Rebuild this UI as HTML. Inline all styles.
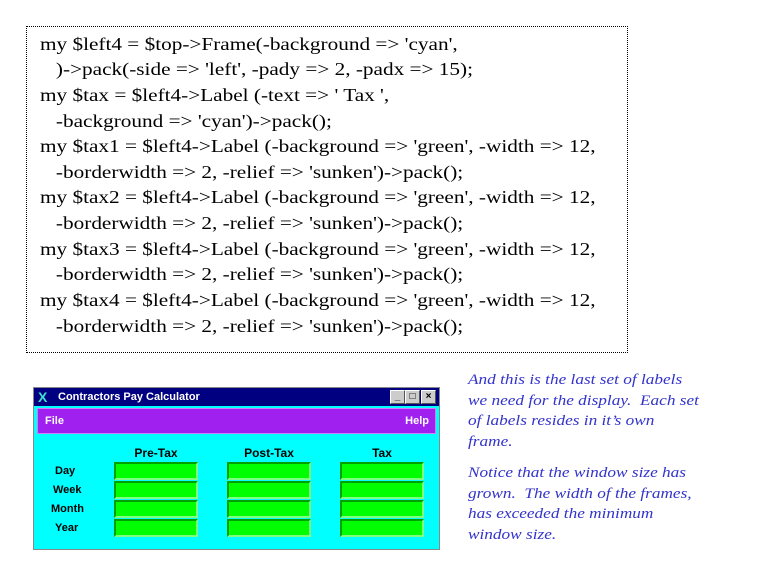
<!DOCTYPE html>
<html><head><style>
body{margin:0;width:768px;height:576px;background:#fff;position:relative;overflow:hidden;font-family:"Liberation Serif",serif}
.code{position:absolute;left:26px;top:26px;width:602px;height:327px;border:1px dotted #000;box-sizing:border-box}
.code div{position:absolute;left:13px;font-size:18px;line-height:20px;white-space:pre;color:#000;transform:scaleX(1.18);transform-origin:0 0}
.win{position:absolute;left:33px;top:387px;width:407px;height:163px;background:#00ffff;border:1px solid #888;box-sizing:border-box}
.title{position:absolute;left:0;top:0;width:405px;height:18px;background:#000080;color:#fff;font:bold 11px "Liberation Sans",sans-serif}
.menu{position:absolute;left:3px;top:20px;width:399px;height:26px;background:#a020f0;border:1px solid #d080ff;box-sizing:border-box;color:#fff;font:bold 11px "Liberation Sans",sans-serif}
.g{position:absolute;width:84px;height:18px;background:#00ff00;border-top:2px solid #00a000;border-left:2px solid #00a000;border-right:2px solid #80ff80;border-bottom:2px solid #80ff80;box-sizing:border-box}
.l{position:absolute;font:bold 11px "Liberation Sans",sans-serif;color:#000}
.h{position:absolute;font:bold 12px "Liberation Sans",sans-serif;color:#000;text-align:center;width:84px}
.note{position:absolute;left:468px;font-style:italic;font-size:15px;line-height:20.5px;color:#3333cc;white-space:pre;transform:scaleX(1.15);transform-origin:0 0}
.btn{position:absolute;top:2px;width:13px;height:12px;background:#ccc;border:1px solid #fff;border-right-color:#555;border-bottom-color:#555;color:#000;font:bold 10px "Liberation Sans",sans-serif;text-align:center;line-height:12px}
</style></head><body>
<div class="code">
<div style="top:7px">my $left4 = $top-&gt;Frame(-background =&gt; 'cyan',</div>
<div style="top:32px">   )-&gt;pack(-side =&gt; 'left', -pady =&gt; 2, -padx =&gt; 15);</div>
<div style="top:58px">my $tax = $left4-&gt;Label (-text =&gt; ' Tax ',</div>
<div style="top:84px">   -background =&gt; 'cyan')-&gt;pack();</div>
<div style="top:109px">my $tax1 = $left4-&gt;Label (-background =&gt; 'green', -width =&gt; 12,</div>
<div style="top:135px">   -borderwidth =&gt; 2, -relief =&gt; 'sunken')-&gt;pack();</div>
<div style="top:160px">my $tax2 = $left4-&gt;Label (-background =&gt; 'green', -width =&gt; 12,</div>
<div style="top:186px">   -borderwidth =&gt; 2, -relief =&gt; 'sunken')-&gt;pack();</div>
<div style="top:212px">my $tax3 = $left4-&gt;Label (-background =&gt; 'green', -width =&gt; 12,</div>
<div style="top:237px">   -borderwidth =&gt; 2, -relief =&gt; 'sunken')-&gt;pack();</div>
<div style="top:263px">my $tax4 = $left4-&gt;Label (-background =&gt; 'green', -width =&gt; 12,</div>
<div style="top:289px">   -borderwidth =&gt; 2, -relief =&gt; 'sunken')-&gt;pack();</div>
</div>
<div class="win">
<div class="title"><span style="position:absolute;left:4px;top:1px;color:#40e0d0;font-size:14px">X</span><span style="position:absolute;left:24px;top:3px">Contractors Pay Calculator</span>
<div class="btn" style="left:356px">_</div><div class="btn" style="left:371px">□</div><div class="btn" style="left:387px">×</div></div>
<div class="menu"><span style="position:absolute;left:7px;top:6px">File</span><span style="position:absolute;right:6px;top:6px">Help</span></div>
<div class="h" style="left:80px;top:58px">Pre-Tax</div>
<div class="h" style="left:193px;top:58px">Post-Tax</div>
<div class="h" style="left:306px;top:58px">Tax</div>
<div class="l" style="left:21px;top:77px">Day</div>
<div class="l" style="left:19px;top:96px">Week</div>
<div class="l" style="left:17px;top:115px">Month</div>
<div class="l" style="left:21px;top:134px">Year</div>
<div class="g" style="left:80px;top:74px"></div><div class="g" style="left:80px;top:93px"></div><div class="g" style="left:80px;top:112px"></div><div class="g" style="left:80px;top:131px"></div>
<div class="g" style="left:193px;top:74px"></div><div class="g" style="left:193px;top:93px"></div><div class="g" style="left:193px;top:112px"></div><div class="g" style="left:193px;top:131px"></div>
<div class="g" style="left:306px;top:74px"></div><div class="g" style="left:306px;top:93px"></div><div class="g" style="left:306px;top:112px"></div><div class="g" style="left:306px;top:131px"></div>
</div>
<div class="note" style="top:370px">And this is the last set of labels
we need for the display.  Each set
of labels resides in it’s own
frame.</div>
<div class="note" style="top:463px">Notice that the window size has
grown.  The width of the frames,
has exceeded the minimum
window size.</div>
</body></html>
